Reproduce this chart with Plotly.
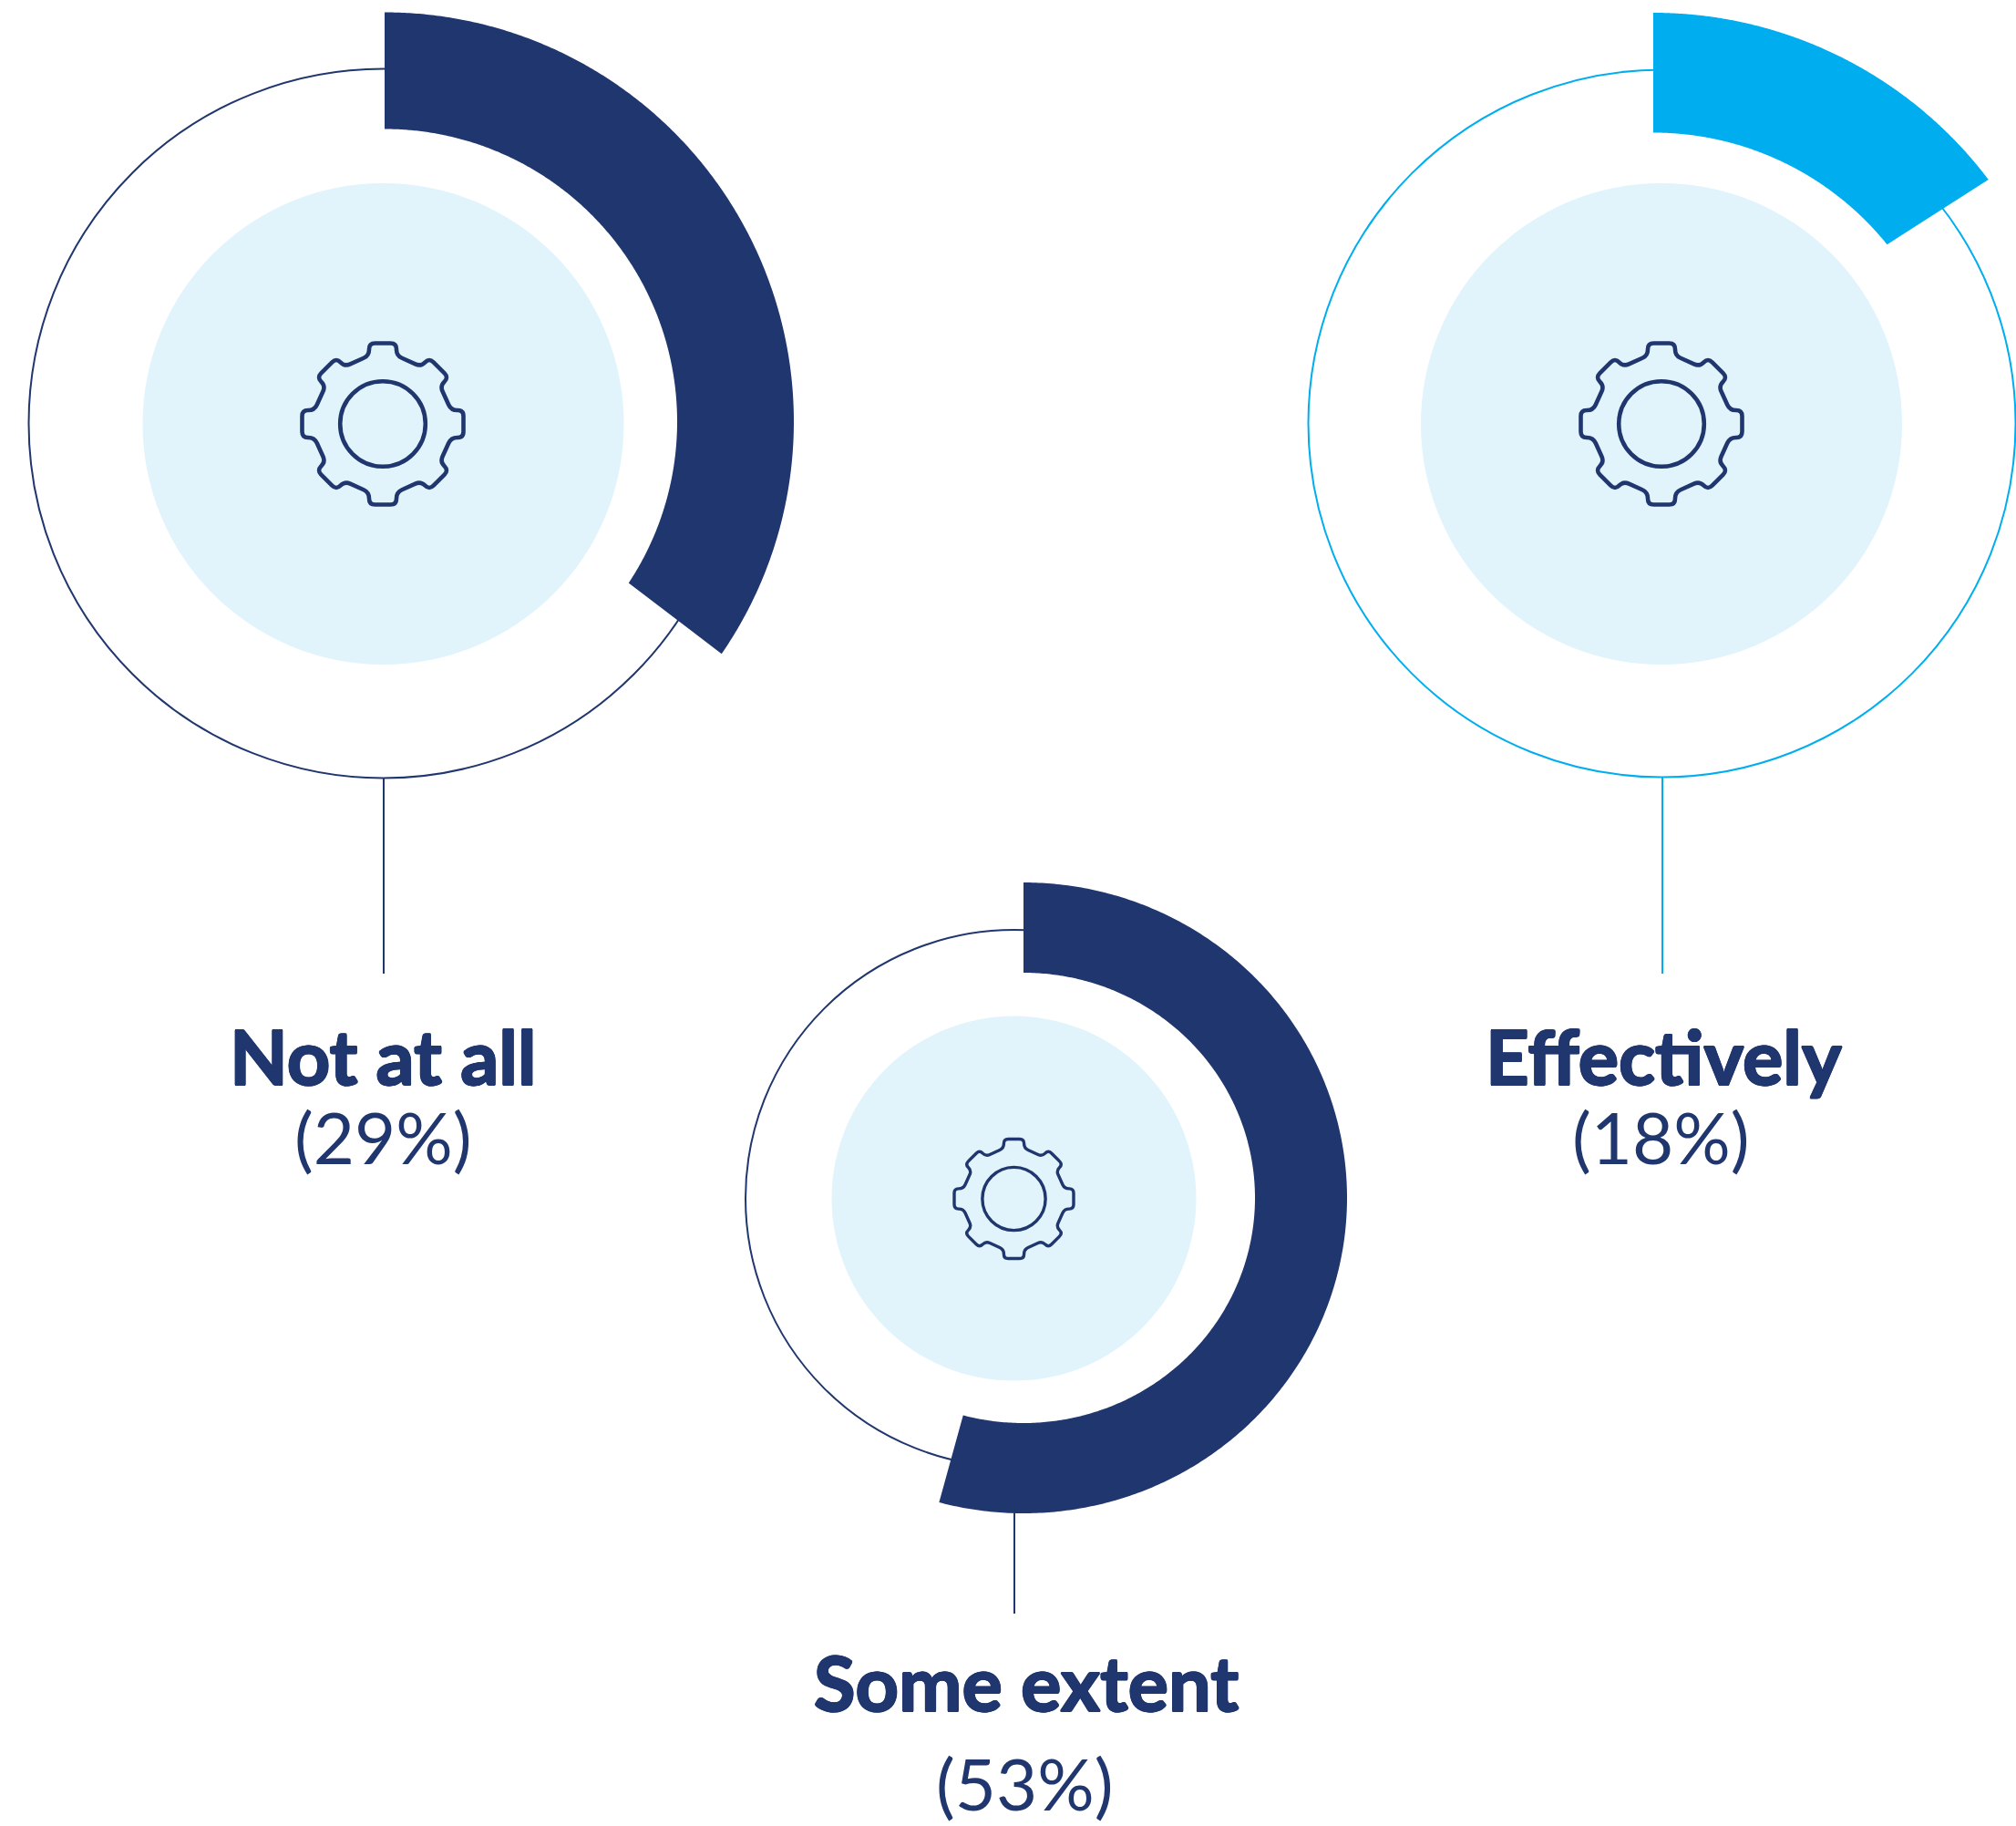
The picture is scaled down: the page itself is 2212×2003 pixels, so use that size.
import numpy as np
import plotly.graph_objects as go

W, H = 2212, 2003
categories = ["Not at all", "Effectively", "Some extent"]
label_percents = [29, 18, 53]
# share of the full turn covered by each drawn arc, along its outer and inner edge
arc_shares_outer = [34.6, 14.7, 54.2]
arc_shares_inner = [34.3, 14.2, 54.2]

NAVY = "#20366E"
SKY = "#00AEEF"
PALE = "#E1F4FC"
colors = [NAVY, SKY, NAVY]
ring_colors = [NAVY, SKY, NAVY]

# layout of the three panels (pixels on the hidden axes)
ring_center = [(420.5, 464.5), (1823.5, 464.5), (1112.5, 1314.6)]
ring_radius = [389, 388, 294.5]
disc_center = [(420.5, 465), (1823, 465), (1112.5, 1314.6)]
disc_radius = [264, 264, 200]
gear_center = [(420, 465), (1823, 465), (1112.5, 1315)]
gear_scale = [1, 1, 0.74]
arc_center = [(422, 462.5), (1814, 475), (1123, 1314)]
arc_outer = [(449, 449), (461, 461), (355, 346)]
arc_inner = [(321, 321), (329.5, 329.5), (254, 247)]
stem_x = [421, 1824, 1113]
stem_start = [853, 852, 1660]
stem_end = [1068, 1068, 1770]
title_xy = [(420, 1192), (1825, 1192), (1126, 1879)]
pct_xy = [(420, 1278), (1822, 1278), (1124, 1987)]


def gear_path(cx, cy, s):
    # outline of one tooth: (x, y, corner radius)
    base = [(-15, -75, 8), (-15, -88.5, 6.5), (15, -88.5, 6.5), (15, -75, 8)]
    verts = []
    for k in range(8):
        a = np.radians(k * 45)
        f = 1.0 if k % 2 == 0 else 0.985
        for x, y, c in base:
            y2 = y * f
            verts.append((x * np.cos(a) - y2 * np.sin(a), x * np.sin(a) + y2 * np.cos(a), c))
    n = len(verts)
    d = ""
    for i in range(n):
        p0 = np.array(verts[i - 1][:2])
        p1 = np.array(verts[i][:2])
        p2 = np.array(verts[(i + 1) % n][:2])
        l0, l1 = np.linalg.norm(p0 - p1), np.linalg.norm(p2 - p1)
        c = min(verts[i][2], l0 * 0.49, l1 * 0.49)
        a_pt = p1 + (p0 - p1) / l0 * c
        b_pt = p1 + (p2 - p1) / l1 * c
        d += ("M" if i == 0 else "L") + f"{cx + s * a_pt[0]:.2f},{cy + s * a_pt[1]:.2f} "
        d += f"Q{cx + s * p1[0]:.2f},{cy + s * p1[1]:.2f} {cx + s * b_pt[0]:.2f},{cy + s * b_pt[1]:.2f} "
    return d + "Z"


shapes = []
fig = go.Figure()
for i, name in enumerate(categories):
    cx, cy = ring_center[i]
    r = ring_radius[i]
    shapes.append(dict(type="circle", x0=cx - r, x1=cx + r, y0=cy - r, y1=cy + r,
                       line=dict(color=ring_colors[i], width=2), fillcolor="rgba(0,0,0,0)", layer="below"))
    dx, dy = disc_center[i]
    d = disc_radius[i]
    shapes.append(dict(type="circle", x0=dx - d, x1=dx + d, y0=dy - d, y1=dy + d,
                       line=dict(width=0), fillcolor=PALE, layer="below"))
    shapes.append(dict(type="line", x0=stem_x[i], x1=stem_x[i], y0=stem_start[i], y1=stem_end[i],
                       line=dict(color=ring_colors[i], width=2), layer="below"))
    gx, gy = gear_center[i]
    s = gear_scale[i]
    shapes.append(dict(type="path", path=gear_path(gx, gy, s),
                       line=dict(color=NAVY, width=4.6 * s), fillcolor="rgba(0,0,0,0)", layer="below"))
    hub = 46.8 * s
    shapes.append(dict(type="circle", x0=gx - hub, x1=gx + hub, y0=gy - hub, y1=gy + hub,
                       line=dict(color=NAVY, width=4.6 * s), fillcolor="rgba(0,0,0,0)", layer="below"))

    th_o = np.radians(np.linspace(0, arc_shares_outer[i] * 3.6, 360))
    th_i = np.radians(np.linspace(0, arc_shares_inner[i] * 3.6, 360))
    ax, ay = arc_center[i]
    (orx, ory), (irx, iry) = arc_outer[i], arc_inner[i]
    xs = np.concatenate([ax + orx * np.sin(th_o), (ax + irx * np.sin(th_i))[::-1]])
    ys = np.concatenate([ay - ory * np.cos(th_o), (ay - iry * np.cos(th_i))[::-1]])
    fig.add_trace(go.Scatter(x=xs, y=ys, mode="lines", fill="toself", fillcolor=colors[i],
                             line=dict(width=0, color=colors[i], simplify=False), name=name,
                             hoverinfo="name", showlegend=False))

heavy = ", ".join(f"{x}px {y}px 0 {NAVY}" for x, y in
                  [(1, 0), (-1, 0), (0, 1), (0, -1), (.7, .7), (-.7, .7), (.7, -.7), (-.7, -.7)])
annotations = []
for i, name in enumerate(categories):
    annotations.append(dict(x=title_xy[i][0], y=title_xy[i][1], text=f"<b>{name}</b>", showarrow=False,
                            xanchor="center", yanchor="bottom", xref="x", yref="y", yshift=-18,
                            font=dict(family="Lato", size=83, color=NAVY, weight=900, shadow=heavy)))
    annotations.append(dict(x=pct_xy[i][0], y=pct_xy[i][1], text=f"({label_percents[i]}%)", showarrow=False,
                            xanchor="center", yanchor="bottom", xref="x", yref="y", yshift=-18,
                            font=dict(family="Lato", size=78, color=NAVY)))

fig.update_layout(
    width=W, height=H, margin=dict(l=0, r=0, t=0, b=0), paper_bgcolor="white", plot_bgcolor="white",
    shapes=shapes, annotations=annotations, showlegend=False,
    xaxis=dict(range=[0, W], visible=False, fixedrange=True),
    yaxis=dict(range=[H, 0], visible=False, fixedrange=True),
)
fig.write_html("out.html", config=dict(displayModeBar=False),
               post_script="document.body.style.margin='0';")
